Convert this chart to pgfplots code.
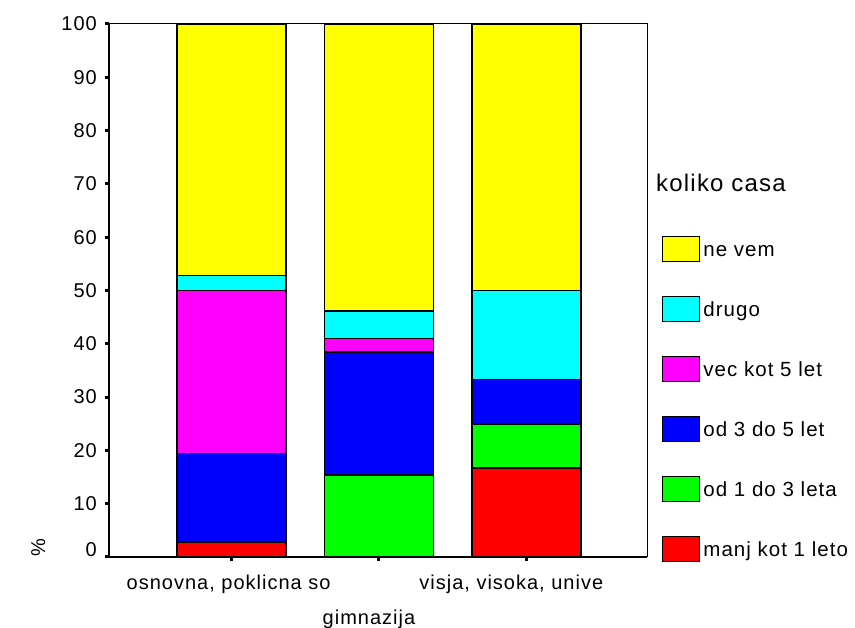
\documentclass[border=0pt]{standalone}
\usepackage{fontspec}
\setmainfont{Liberation Sans}[LetterSpace=5]
\usepackage{pgfplots}
\pgfplotsset{compat=1.18}
\definecolor{cyel}{RGB}{255,255,0}
\definecolor{ccya}{RGB}{0,255,255}
\definecolor{cmag}{RGB}{255,0,255}
\definecolor{cblu}{RGB}{0,0,255}
\definecolor{cgre}{RGB}{0,255,0}
\definecolor{cred}{RGB}{255,0,0}
\begin{document}
\begin{tikzpicture}
\path[use as bounding box] (-109pt,-71pt) rectangle (746pt,557pt);
\begin{axis}[
  at={(0pt,0pt)}, anchor=south west,
  scale only axis, width=538pt, height=533pt,
  clip=false,
  ybar stacked, bar width=109pt,
  xmin=-0.832, xmax=2.819, ymin=0, ymax=100,
  xtick={0,1,2},
  xticklabels={{osnovna, poklicna so\hspace*{6pt}},{\raisebox{-35pt}{gimnazija\hspace*{20pt}}},{visja, visoka, unive\hspace*{30pt}}},
  ytick={0,10,...,100},
  yticklabel={\ifdim\tick pt<1pt \raisebox{14pt}{0}\else\pgfmathprintnumber{\tick}\fi},
  /pgf/number format/assume math mode=true,
  xtick pos=left, ytick pos=left,
  tick align=outside, major tick length=4pt,
  tick style={black, line width=3pt},
  axis line style={black, line width=1pt},
  font=\fontsize{20}{24}\selectfont,
  ticklabel style={font=\fontsize{20}{24}\selectfont},
  yticklabel style={inner sep=0pt, xshift=-8pt},
  xticklabel style={anchor=base, inner sep=0pt, yshift=-29pt},
  ylabel={\%},
  ylabel style={at={(ticklabel cs:0.02)}, anchor=south, inner sep=0pt, xshift=-1pt, yshift=16pt},
  axis on top,
  every axis plot/.append style={draw=black, line width=1.6pt},
  reverse legend,
  legend style={at={(rel axis cs:1,0.603)}, anchor=north west, xshift=15pt,
    draw=none, fill=none, inner sep=0pt, row sep=33.8pt, column sep=3pt,
    nodes={inner sep=0pt, anchor=base west}, font=\fontsize{20.5}{24}\selectfont},
  legend cell align=left,
  area legend,
  legend image code/.code={\draw[#1, draw=black, line width=1.2pt] (0pt,-5pt) rectangle (37pt,20pt);},
]
\addplot[fill=cred] coordinates {(0,2.78) (1,0) (2,16.67)};
\addplot[fill=cgre] coordinates {(0,0) (1,15.38) (2,8.33)};
\addplot[fill=cblu] coordinates {(0,16.67) (1,23.08) (2,8.33)};
\addplot[fill=cmag] coordinates {(0,30.56) (1,2.56) (2,0)};
\addplot[fill=ccya] coordinates {(0,2.78) (1,5.13) (2,16.67)};
\addplot[fill=cyel] coordinates {(0,47.22) (1,53.85) (2,50.0)};
\legend{manj kot 1 leto, od 1 do 3 leta, od 3 do 5 let, vec kot 5 let, drugo, ne vem}
\draw[line width=2pt] (rel axis cs:0,1) -- (rel axis cs:0,0) -- (rel axis cs:1,0);
\node[anchor=west, inner sep=0pt, font=\fontsize{24}{28}\selectfont] at (rel axis cs:1,0.7017) [xshift=9pt] {koliko casa};
\end{axis}
\end{tikzpicture}
\end{document}
